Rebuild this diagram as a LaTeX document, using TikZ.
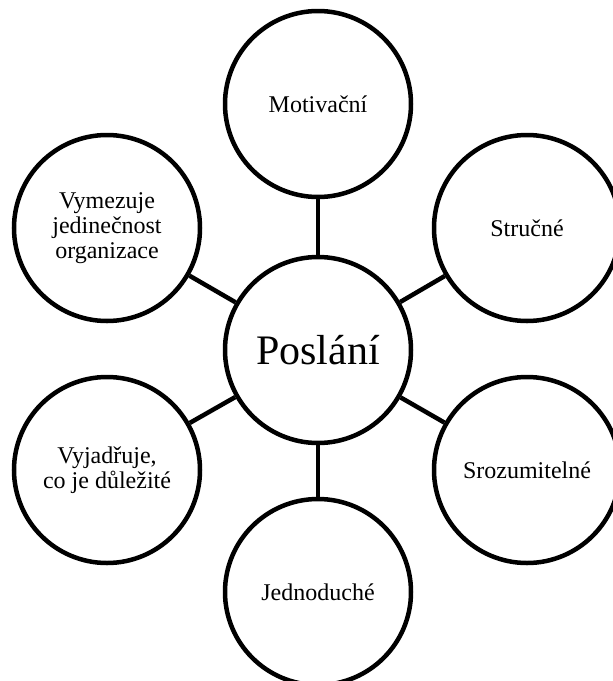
\documentclass[tikz,border=0pt]{standalone}
\usepackage{fontspec}
\setmainfont{Liberation Serif}
\begin{document}
\begin{tikzpicture}[x=1pt,y=-1pt,
  ring/.style={circle,draw,line width=4.5pt,minimum size=186pt,inner sep=0pt,
    align=center,font=\fontsize{24}{25}\selectfont},
  hub/.style={ring,font=\fontsize{42}{46}\selectfont},
  link/.style={line width=4.5pt}]
\useasboundingbox (0,0) rectangle (613,681);
\clip (0,0) rectangle (613,681);
\node[hub]  (c)  at (318,350) {Poslání};
\node[ring] (t)  at (318,104) {Motivační};
\node[ring] (tr) at (527,228) {Stručné};
\node[ring] (br) at (527,470) {Srozumitelné};
\node[ring] (b)  at (318,592) {Jednoduché};
\node[ring] (bl) at (107,470) {Vyjadřuje,\\co je důležité};
\node[ring] (tl) at (107,228) {Vymezuje\\jedinečnost\\organizace};
\foreach \n in {t,tr,br,b,bl,tl} \draw[link] (c) -- (\n);
\end{tikzpicture}
\end{document}
